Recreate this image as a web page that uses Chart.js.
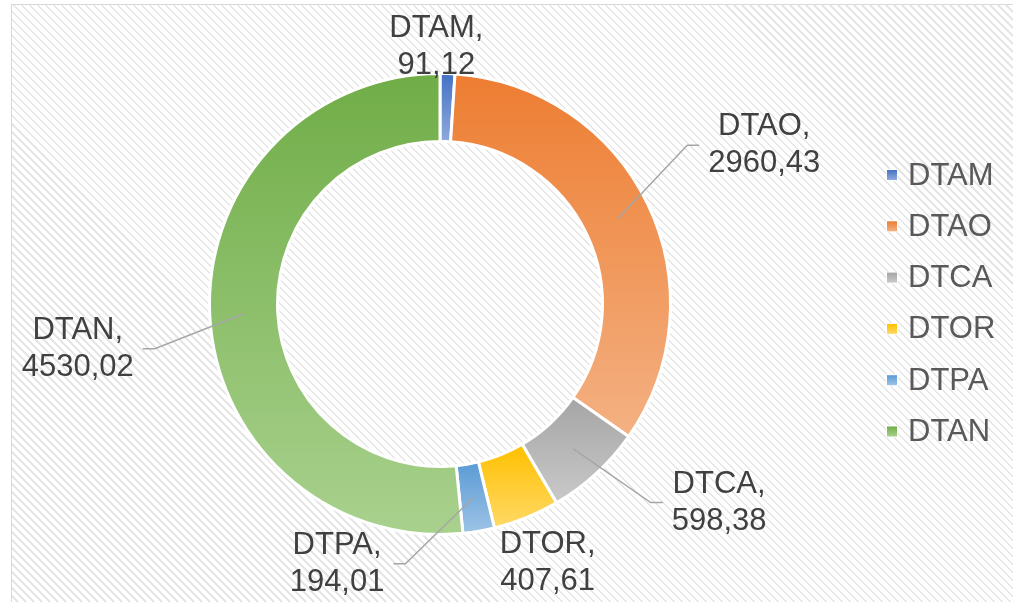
<!DOCTYPE html>
<html>
<head>
<meta charset="utf-8">
<script src="https://cdn.jsdelivr.net/npm/chart.js@4.4.1/dist/chart.umd.min.js"></script>
<style>
  html, body { margin: 0; padding: 0; background: #fff; overflow: hidden; }
  #frame {
    position: absolute; left: 11px; top: 4px; width: 1100px; height: 700px;
    border: 1.5px solid #d9d9d9;
    background: repeating-linear-gradient(45deg, #fff 0 2.6px, #e6e6e6 2.6px 4.4px, #fff 4.4px 5.66px);
  }
  #wrap { position: absolute; left: 0; top: 0; width: 1013px; height: 602px; }
</style>
</head>
<body>
<div id="frame"></div>
<div id="wrap"><canvas id="donut" width="1013" height="602"></canvas></div>
<script>
const categories = ['DTAM', 'DTAO', 'DTCA', 'DTOR', 'DTPA', 'DTAN'];
const values = [91.12, 2960.43, 598.38, 407.61, 194.01, 4530.02];

// gradient colours per slice (top -> bottom)
const topColors = ['#4472C4', '#ED7D31', '#A5A5A5', '#FFC000', '#5B9BD5', '#70AD47'];
const bottomColors = ['#8FAADC', '#F4B183', '#C9C9C9', '#FFD966', '#9DC3E6', '#A9D18E'];

// label block centre, offset from the slice's mid-ring point; leader = draw a leader line
const labelOffsets = [[-10, -61], [147, -74], [146, 54], [34, 77], [-136, 66], [-166, 35]];
const leader = [false, true, true, false, true, true];

const FONT = '31px "Liberation Sans", Arial, sans-serif';
const LINE_H = 37;

function fmt(v) {
  return v.toFixed(2).replace('.', ',');
}

function arcGradient(ctx, p, i) {
  let minY = Infinity, maxY = -Infinity;
  for (let k = 0; k <= 60; k++) {
    const a = p.startAngle + (p.endAngle - p.startAngle) * k / 60;
    [p.innerRadius, p.outerRadius].forEach(r => {
      const y = p.y + r * Math.sin(a);
      minY = Math.min(minY, y);
      maxY = Math.max(maxY, y);
    });
  }
  const g = ctx.createLinearGradient(0, minY, 0, maxY);
  g.addColorStop(0, topColors[i]);
  g.addColorStop(1, bottomColors[i]);
  return g;
}

const gradientFill = {
  id: 'gradientFill',
  beforeDatasetsDraw(chart) {
    const ctx = chart.ctx;
    chart.getDatasetMeta(0).data.forEach((arc, i) => {
      const p = arc.getProps(['x', 'y', 'startAngle', 'endAngle', 'innerRadius', 'outerRadius'], true);
      arc.options.backgroundColor = arcGradient(ctx, p, i);
    });
  }
};

const sliceLabels = {
  id: 'sliceLabels',
  afterDatasetsDraw(chart) {
    const ctx = chart.ctx;
    ctx.save();
    ctx.font = FONT;
    ctx.textAlign = 'center';
    ctx.textBaseline = 'middle';
    chart.getDatasetMeta(0).data.forEach((arc, i) => {
      const p = arc.getProps(['x', 'y', 'startAngle', 'endAngle', 'innerRadius', 'outerRadius'], true);
      const mid = (p.startAngle + p.endAngle) / 2;
      const r = (p.innerRadius + p.outerRadius) / 2;
      const ax = p.x + r * Math.cos(mid);
      const ay = p.y + r * Math.sin(mid);
      const cx = ax + labelOffsets[i][0];
      const cy = ay + labelOffsets[i][1];
      const lines = [categories[i] + ',', fmt(values[i])];

      if (leader[i]) {
        const w = Math.max(...lines.map(t => ctx.measureText(t).width));
        const dir = cx > ax ? 1 : -1;
        const endX = cx - dir * (w / 2 + 9);
        const elbowX = endX - dir * 12;
        ctx.strokeStyle = '#a6a6a6';
        ctx.lineWidth = 1.5;
        ctx.beginPath();
        ctx.moveTo(ax, ay);
        ctx.lineTo(elbowX, cy);
        ctx.lineTo(endX, cy);
        ctx.stroke();
      }

      ctx.fillStyle = '#404040';
      ctx.fillText(lines[0], cx, cy - LINE_H / 2);
      ctx.fillText(lines[1], cx, cy + LINE_H / 2);
    });
    ctx.restore();
  }
};

const sideLegend = {
  id: 'sideLegend',
  afterDraw(chart) {
    const ctx = chart.ctx;
    const x0 = 887, y0 = 175, step = 51.3;
    ctx.save();
    ctx.font = FONT;
    ctx.textBaseline = 'middle';
    ctx.textAlign = 'left';
    categories.forEach((name, i) => {
      const y = y0 + i * step;
      const g = ctx.createLinearGradient(0, y - 5, 0, y + 5);
      g.addColorStop(0, topColors[i]);
      g.addColorStop(1, bottomColors[i]);
      ctx.fillStyle = '#fff';
      ctx.fillRect(x0 - 1, y - 6, 12, 12);
      ctx.fillStyle = g;
      ctx.fillRect(x0, y - 5, 10, 10);
      ctx.fillStyle = '#595959';
      ctx.fillText(name, x0 + 21, y + 1);
    });
    ctx.restore();
  }
};

new Chart(document.getElementById('donut'), {
  type: 'doughnut',
  data: {
    labels: categories,
    datasets: [{
      data: values,
      backgroundColor: topColors.slice(),
      borderColor: '#ffffff',
      borderWidth: 3
    }]
  },
  options: {
    responsive: false,
    animation: false,
    cutout: '70.5%',
    layout: { padding: { left: 208, top: 72, right: 341, bottom: 66 } },
    plugins: {
      legend: { display: false },
      tooltip: { enabled: false }
    }
  },
  plugins: [gradientFill, sliceLabels, sideLegend]
});
</script>
</body>
</html>
